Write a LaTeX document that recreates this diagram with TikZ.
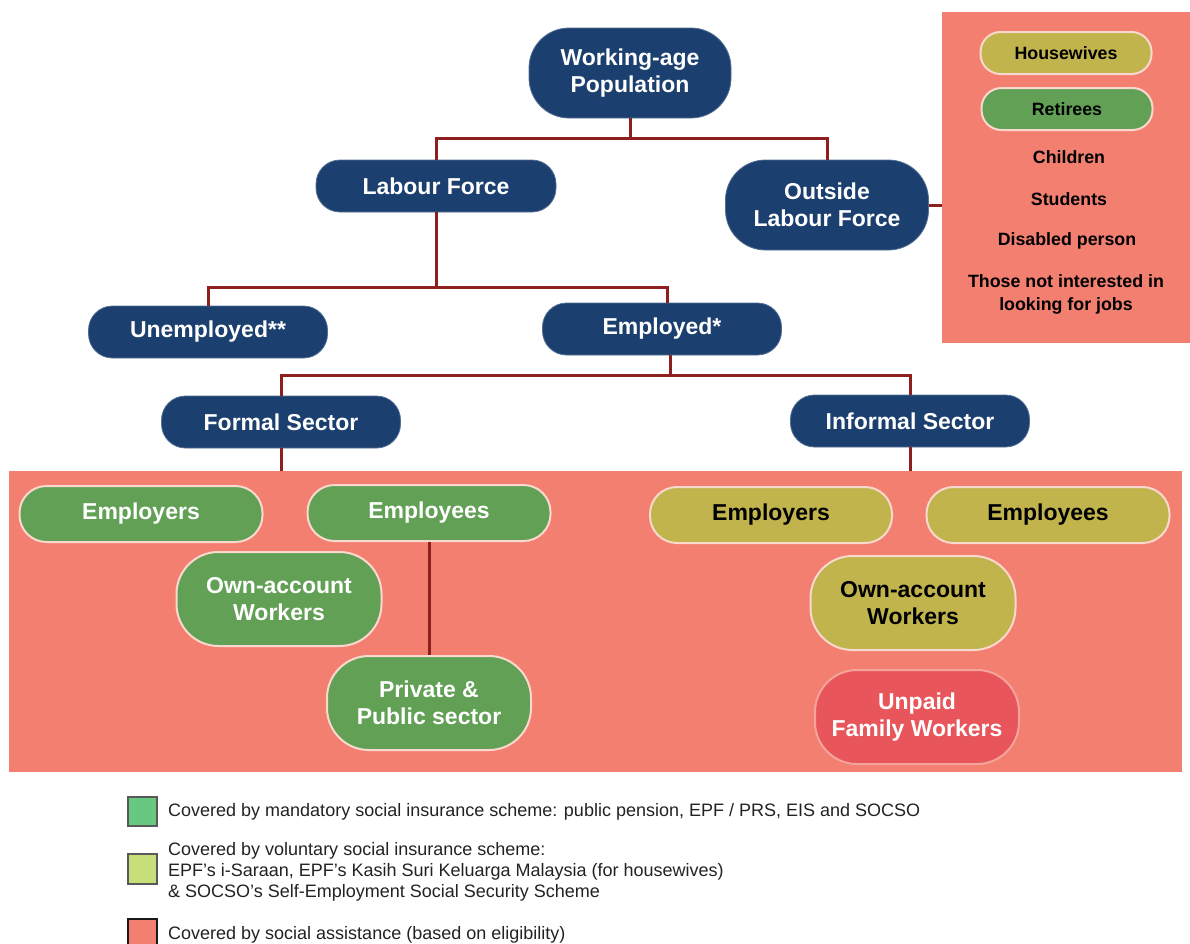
\documentclass[tikz,border=0pt]{standalone}
\usepackage{fontspec}
\setmainfont{Liberation Sans}
\definecolor{navy}{HTML}{1B3F6F}
\definecolor{pgreen}{HTML}{62A055}
\definecolor{olive}{HTML}{C2B44C}
\definecolor{salmon}{HTML}{F37F70}
\definecolor{unpaid}{HTML}{E8565C}
\definecolor{conncol}{HTML}{8E1F1F}
\definecolor{rim}{HTML}{F9D8CE}
\definecolor{rimred}{HTML}{F4A49A}
\definecolor{lgreen}{HTML}{66C97F}
\definecolor{llime}{HTML}{C8DE78}
\definecolor{legtext}{HTML}{222222}
\begin{document}
\begin{tikzpicture}[x=1pt,y=-1pt,
  base/.style={inner sep=0pt, align=center, font=\bfseries\fontsize{23}{26.5}\selectfont},
  navybox/.style={base, fill=navy, text=white, draw=navy!75!white, line width=0.8pt},
  pill/.style={minimum width=#1, minimum height=52pt, rounded corners=24pt},
  tall/.style={minimum width=#1, minimum height=90pt, rounded corners=40pt},
  inpill/.style={minimum width=#1, minimum height=56pt, rounded corners=27pt},
  intall/.style={minimum width=#1, minimum height=94pt, rounded corners=42pt},
  greenbox/.style={base, fill=pgreen, text=white, draw=rim, line width=2pt},
  olivebox/.style={base, fill=olive, text=black, draw=rim, line width=2pt},
  unpaidbox/.style={base, fill=unpaid, text=white, draw=rimred, line width=2pt},
  smallpill/.style={inner sep=0pt, minimum width=171pt, minimum height=42pt, rounded corners=20pt,
     draw=rim, line width=2pt, text=black, font=\bfseries\fontsize{17.8}{21}\selectfont},
  sidetext/.style={inner sep=0pt, align=center, text=black, font=\bfseries\fontsize{17.8}{23}\selectfont},
  area/.style={fill=salmon, inner sep=0pt, anchor=north west},
  conn/.style={draw=conncol, line width=3pt},
  legbox/.style={inner sep=0pt, minimum width=29pt, minimum height=29pt, line width=2pt},
  legtxt/.style={inner sep=0pt, anchor=west, align=left, text=legtext, font=\fontsize{18}{21}\selectfont}
]
\useasboundingbox (0,0) rectangle (1190,943);

% background areas
\node[area, minimum width=1173pt, minimum height=301pt] (bigbox) at (9,471) {};
\node[area, minimum width=248pt, minimum height=331pt] (rbox) at (942,12) {};

% hierarchy
\node[navybox, tall=202pt] (wap) at (630,73) {Working-age\\Population};
\node[navybox, pill=240pt] (lf) at (436,186) {Labour Force};
\node[navybox, tall=203pt] (olf) at (827,205) {Outside\\Labour Force};
\node[navybox, pill=239pt] (unemp) at (208,332) {Unemployed**};
\node[navybox, pill=239pt] (emp) at (662,329) {Employed*};
\node[navybox, pill=239pt] (fs) at (281,422) {Formal Sector};
\node[navybox, pill=239pt] (ins) at (910,421) {Informal Sector};

% formal sector groups
\node[greenbox, inpill=243pt] (fe) at (141,514) {Employers};
\node[greenbox, inpill=243pt] (fee) at (429,513) {Employees};
\node[greenbox, intall=205pt] (fo) at (279,599) {Own-account\\Workers};
\node[greenbox, intall=204pt] (fpp) at (429,703) {Private \&\\Public sector};

% informal sector groups
\node[olivebox, inpill=242pt] (ie) at (771,515) {Employers};
\node[olivebox, inpill=243pt] (iee) at (1048,515) {Employees};
\node[olivebox, intall=205pt] (io) at (913,603) {Own-account\\Workers};
\node[unpaidbox, intall=204pt] (iu) at (917,717) {Unpaid\\Family Workers};

% outside labour force list
\node[smallpill, fill=olive] (hw) at (1066,53) {Housewives};
\node[smallpill, fill=pgreen] (ret) at (1067,109) {Retirees};
\node[sidetext] (chi) at (1069,157) {Children};
\node[sidetext] (stu) at (1069,199) {Students};
\node[sidetext] (dis) at (1067,241) {Disabled person};
\node[sidetext] (oth) at (1066,294) {Those not interested in\\looking for jobs};

% connectors
\draw[conn] (wap.south) -- ++(0,20) -| (lf.north);
\draw[conn] (wap.south) -- ++(0,20) -| (olf.north);
\draw[conn] (lf.south) -- ++(0,75) -| (unemp.north);
\draw[conn] (lf.south) -- ++(0,75) -| ([xshift=5pt]emp.north);
\draw[conn] ([xshift=8pt]emp.south) -- ++(0,20) -| (fs.north);
\draw[conn] ([xshift=8pt]emp.south) -- ++(0,20) -| (ins.north);
\draw[conn] (fs.south) -- (fs.south |- bigbox.north);
\draw[conn] (ins.south) -- (ins.south |- bigbox.north);
\draw[conn] (fee.south) -- (fpp.north);
\draw[conn] (olf.east) -- (olf.east -| rbox.west);

% legend
\node[legbox, fill=lgreen, draw=black!65] (lg1) at (142,811) {};
\node[legbox, fill=llime, draw=black!65, minimum height=30pt] (lg2) at (142,869) {};
\node[legbox, fill=salmon, draw=black!90, minimum height=30pt] (lg3) at (142,934) {};
\node[legtxt] (lt1) at (168,812) {Covered by mandatory social insurance scheme: public pension, EPF / PRS, EIS and SOCSO};
\node[legtxt] (lt2) at (168,872) {Covered by voluntary social insurance scheme:\\EPF’s i-Saraan, EPF’s Kasih Suri Keluarga Malaysia (for housewives)\\\& SOCSO’s Self-Employment Social Security Scheme};
\node[legtxt] (lt3) at (168,935) {Covered by social assistance (based on eligibility)};
\end{tikzpicture}
\end{document}
